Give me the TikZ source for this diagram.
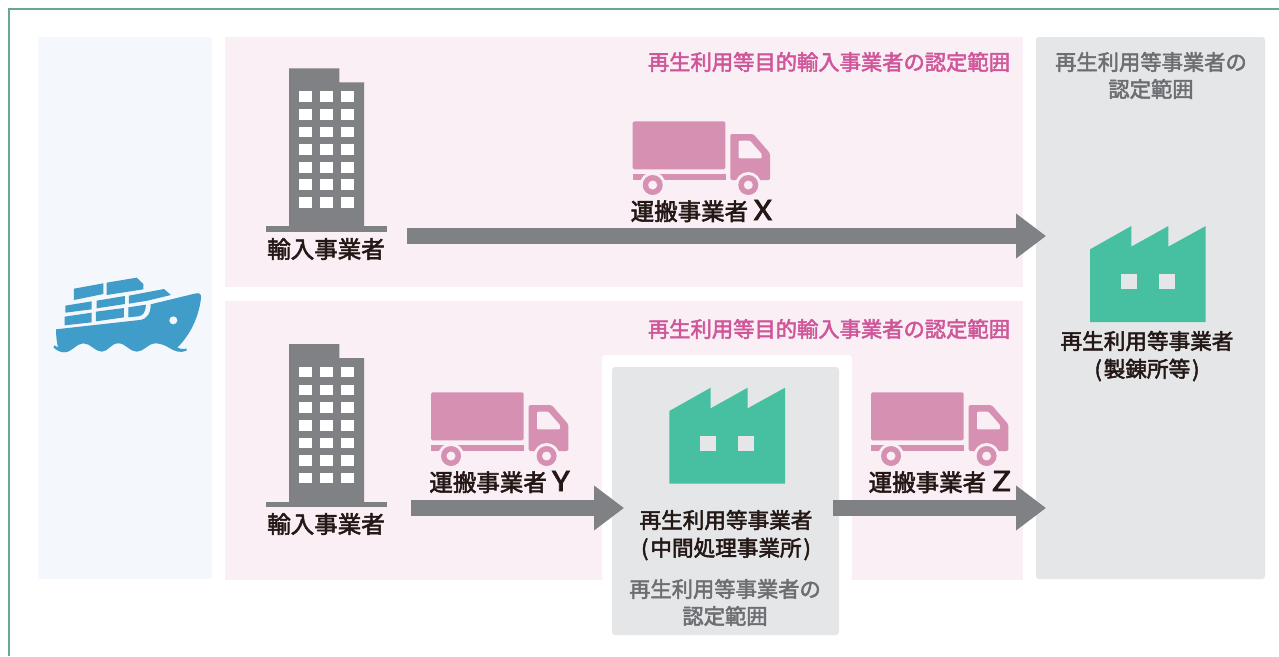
\documentclass[tikz,border=0pt]{standalone}
\usepackage{fontspec}
\setmainfont{Noto Sans CJK JP}[FakeBold=2.4]
\usetikzlibrary{arrows.meta}
\definecolor{frameC}{HTML}{66A992}
\definecolor{blueP}{HTML}{F4F7FB}
\definecolor{pinkP}{HTML}{F9EFF5}
\definecolor{grayP}{HTML}{E5E6E8}
\definecolor{truckC}{HTML}{D690B2}
\definecolor{facC}{HTML}{47C0A2}
\definecolor{bldC}{HTML}{808184}
\definecolor{shipC}{HTML}{409CC8}
\definecolor{pinkT}{HTML}{D0569A}
\definecolor{grayT}{HTML}{6D6E71}
\definecolor{blackT}{HTML}{231815}
\newcommand{\bigltr}[1]{\scalebox{1.32}[1.1]{\fontsize{25}{25}\selectfont #1}}
\tikzset{
  x=1pt,y=-1pt,
  panel/.style={fill=#1,draw=none},
  lbl/.style={font=\fontsize{21.6}{21.6}\selectfont,text=blackT,inner sep=0pt,anchor=center},
  lblbig/.style={font=\fontsize{23.5}{23.5}\selectfont,text=blackT,inner sep=0pt,anchor=center},
  lblpink/.style={font=\fontsize{21.3}{21.3}\selectfont,text=pinkT,inner sep=0pt,anchor=center},
  lblgray/.style={font=\fontsize{21.3}{21.3}\selectfont,text=grayT,inner sep=0pt,anchor=center},
  bigarrow/.style={draw=bldC,line width=16pt,-{Triangle[length=30pt,width=43pt,fill=bldC]}},
}
\newcommand{\factoryicon}[1]{%
 \begin{scope}[shift={(#1)}]
  \fill[facC] (0,23.3)--(41.4,0)--(41.4,20.6)--(78.4,0)--(78.4,20.6)--(115.7,0)--(115.7,96)--(0,96)--cycle;
  \fill[grayP] (31,48) rectangle (46.7,63.3);
  \fill[grayP] (69,48) rectangle (84.7,63.3);
 \end{scope}}
\newcommand{\buildingicon}[1]{%
 \begin{scope}[shift={(#1)}]
  \fill[bldC] (289,68.3)--(339.3,68.3)--(339.3,82.3)--(364,82.3)--(364,226.5)--(289,226.5)--cycle;
  \fill[bldC] (266,226)rectangle(386.7,231.7);
  \foreach \r in {91,108.8,126.5,144.2,161.8,179.4,197}
   \foreach \c in {299,320,341}
    \fill[white] (\c,\r) rectangle ++(13,10.7);
 \end{scope}}
\newcommand{\truckicon}[1]{%
 \begin{scope}[shift={(#1)}]
  \fill[truckC,rounded corners=1.5pt] (632.7,121.3) rectangle (725.3,169.3);
  \fill[truckC] (632.7,174) rectangle (725.5,180);
  \fill[truckC,rounded corners=1.5pt] (730.3,134)--(753.3,134)--(770,153.3)--(770,180)--(730.3,180)--cycle;
  \fill[pinkP,rounded corners=1pt] (738.7,140.7)--(750,140.7)--(761.7,154)--(761.7,158.3)--(738.7,158.3)--cycle;
  \foreach \w in {652.7,748.3}{
   \fill[pinkP] (\w,185) circle (13);
   \fill[truckC] (\w,185) circle (10);
   \fill[pinkP] (\w,185) circle (4.5);
  }
 \end{scope}}
\begin{document}
\begin{tikzpicture}
\useasboundingbox (0,0) rectangle (1279,656);
\fill[white] (0,0) rectangle (1279,656);
\draw[frameC,line width=1.4pt] (9,656)--(9,9)--(1279,9);
% panels
\fill[blueP] (38,37) rectangle (212,579);
\fill[pinkP] (225,37) rectangle (1023,287);
\fill[pinkP] (225,301) rectangle (1023,580);
\fill[grayP,rounded corners=3pt] (1036,37) rectangle (1265,579);
\fill[white,rounded corners=3pt] (602,355)--(852,355)--(852,580.5)--(602,580.5)--cycle;
\fill[grayP,rounded corners=3pt] (612,367) rectangle (839,635);
% ship
\begin{scope}[shift={(40,260)},x=0.3333pt,y=-0.3333pt]
 \fill[shipC] (48,208)--(300,180) .. controls (322,177) and (332,160) .. (332,133)
   --(468,100) .. controls (480,97) and (485,105) .. (483,116)
   .. controls (475,175) and (450,225) .. (412,263)
   .. controls (420,268) and (430,268) .. (440,266) -- (440,272)
   .. controls (420,280) and (405,274) .. (390,265)
   .. controls (375,255) and (360,250) .. (345,250)
   .. controls (325,250) and (312,275) .. (290,275)
   .. controls (268,275) and (258,250) .. (235,250)
   .. controls (212,250) and (205,275) .. (185,275)
   .. controls (165,275) and (152,250) .. (130,250)
   .. controls (108,250) and (98,277) .. (72,277)
   .. controls (60,277) and (48,270) .. (40,262) -- (44,256)
   .. controls (46,258) and (50,260) .. (54,262)
   .. controls (50,245) and (48,225) .. (48,208) -- cycle;
 \fill[blueP] (400,181) circle (12);
 \fill[shipC] (102,86)--(190,70)--(190,102)--(102,120)--cycle;
 \fill[shipC] (200,68)--(290,53)--(310,72)--(310,88)--(200,105)--cycle;
 \fill[shipC] (76,137)--(155,124)--(155,148)--(76,158)--cycle;
 \fill[shipC] (170,122)--(255,108)--(255,132)--(170,145)--cycle;
 \fill[shipC] (267,107)--(372,87)--(393,105)--(322,122)--(267,131)--cycle;
 \fill[shipC] (74,170)--(155,158)--(155,187)--(74,196)--cycle;
 \fill[shipC] (168,155)--(252,144)--(252,172)--(168,184)--cycle;
 \fill[shipC] (265,142)--(318,134) .. controls (317,155) and (310,167) .. (295,169) -- (265,172)--cycle;
\end{scope}
% icons
\buildingicon{0,0}
\buildingicon{0,275.7}
\truckicon{0,0}
\truckicon{-201.7,271}
\truckicon{238.3,271}
\factoryicon{1090,226}
\factoryicon{669.3,387.7}
% text
\node[lblpink] (t1) at (829,62) {再生利用等目的輸入事業者の認定範囲};
\node[lblpink] (t2) at (829,329) {再生利用等目的輸入事業者の認定範囲};
\node[lblgray] (g1) at (1151,62) {再生利用等事業者の};
\node[lblgray] (g2) at (1151,89) {認定範囲};
\node[lblgray] (g3) at (725,589) {再生利用等事業者の};
\node[lblgray] (g4) at (725,616) {認定範囲};
\node[lblbig] (imp1) at (326,249) {輸入事業者};
\node[lblbig] (imp2) at (326,524) {輸入事業者};
\node[lblbig] (cx) at (701.5,211) {運搬事業者 \bigltr{X}};
\node[lblbig] (cy) at (499.5,482) {運搬事業者 \bigltr{Y}};
\node[lblbig] (cz) at (940,482) {運搬事業者 \bigltr{Z}};
\node[lbl] (f1a) at (1147,341) {再生利用等事業者};
\node[lbl] (f1b) at (1147,370) {(\kern2pt 製錬所等\kern2pt)};
\node[lbl] (f2a) at (726,520) {再生利用等事業者};
\node[lbl] (f2b) at (726,549) {(\kern2pt 中間処理事業所\kern2pt)};
% arrows
\coordinate (a1s) at (407,236); \coordinate (a1e) at (1046,236);
\coordinate (a2s) at (411,508); \coordinate (a2e) at (624,508);
\coordinate (a3s) at (833,508); \coordinate (a3e) at (1046,508);
\draw[bigarrow] (a1s)--(a1e);
\draw[bigarrow] (a2s)--(a2e);
\draw[bigarrow] (a3s)--(a3e);
\end{tikzpicture}
\end{document}
